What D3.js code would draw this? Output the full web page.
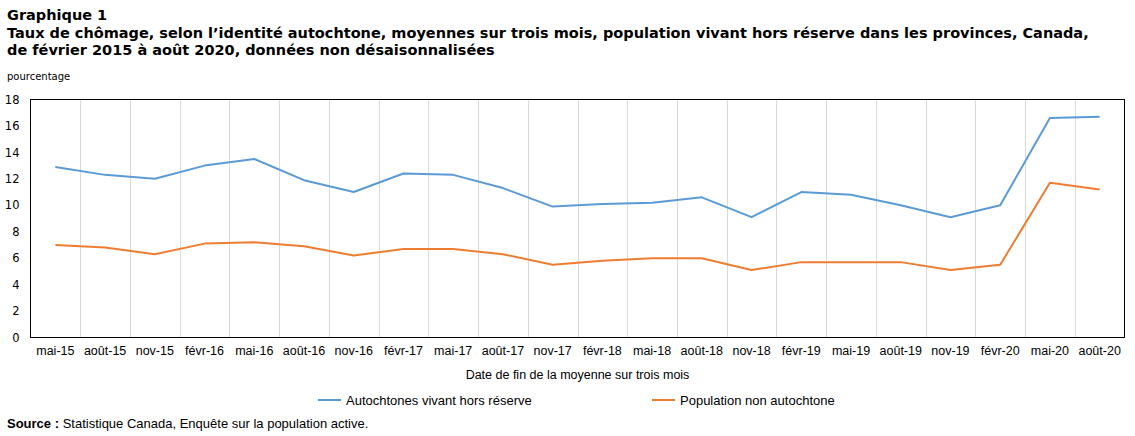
<!DOCTYPE html>
<html><head><meta charset="utf-8">
<script src="https://cdn.jsdelivr.net/npm/d3@7"></script>
<style>body{margin:0;background:#fff;} svg{display:block;}</style>
</head><body>
<script>
const categories = ["mai-15","août-15","nov-15","févr-16","mai-16","août-16","nov-16","févr-17","mai-17","août-17","nov-17","févr-18","mai-18","août-18","nov-18","févr-19","mai-19","août-19","nov-19","févr-20","mai-20","août-20"];
const autochtones = [12.9,12.3,12.0,13.0,13.5,11.9,11.0,12.4,12.3,11.3,9.9,10.1,10.2,10.6,9.1,11.0,10.8,10.0,9.1,10.0,16.6,16.7];
const nonAutochtone = [7.0,6.8,6.3,7.1,7.2,6.9,6.2,6.7,6.7,6.3,5.5,5.8,6.0,6.0,5.1,5.7,5.7,5.7,5.1,5.5,11.7,11.2];
const yTicks = [0,2,4,6,8,10,12,14,16,18];
const seriesNames = ["Autochtones vivant hors réserve","Population non autochtone"];
const colors = ["#5b9bd5","#ed7d31"];

const W = 1135, H = 436;
const svg = d3.select("body").append("svg").attr("width", W).attr("height", H);
const L = 30.5, R = 1124.5, T = 99.5, B = 337.5;
const x = d3.scaleBand().domain(categories).range([L, R]);
const y = d3.scaleLinear().domain([0, 18]).range([B, T]);

const titleFont = "Verdana, 'DejaVu Sans', sans-serif";
const t = svg.append("g").attr("font-family", titleFont).attr("font-size", 14.5).attr("fill", "#000").attr("font-weight", "bold");
t.append("text").attr("x", 7).attr("y", 20).text("Graphique  1");
t.append("text").attr("x", 7).attr("y", 38).text("Taux de chômage, selon l’identité autochtone, moyennes sur trois mois, population  vivant hors réserve dans les provinces, Canada,");
t.append("text").attr("x", 7).attr("y", 55).text("de février 2015 à août 2020, données non désaisonnalisées");

svg.append("text").attr("x", 7).attr("y", 80).attr("font-family", titleFont).attr("font-size", 10).text("pourcentage");

// gridlines
svg.append("g").selectAll("line").data(categories.slice(1)).join("line")
  .attr("x1", d => Math.round(x(d)) + 0.5).attr("x2", d => Math.round(x(d)) + 0.5)
  .attr("y1", T).attr("y2", B).attr("stroke", "#d9d9d9").attr("stroke-width", 1);

// y axis labels
svg.append("g").attr("transform", `translate(${L},0)`)
  .call(d3.axisLeft(y).tickValues(yTicks).tickSize(0).tickPadding(11))
  .call(g => g.select(".domain").remove())
  .selectAll("text").attr("font-family", titleFont).attr("font-size", 11.5).attr("fill", "#000");

const narrow = "'Liberation Sans Narrow', 'Arial Narrow', sans-serif";
// x axis labels
svg.append("g").attr("transform", `translate(0,${B})`)
  .call(d3.axisBottom(x).tickSize(0).tickPadding(9))
  .call(g => g.select(".domain").remove())
  .selectAll("text").attr("font-family", narrow).attr("font-size", 12.5).attr("fill", "#000");

// frame
svg.append("rect").attr("x", L).attr("y", T).attr("width", R - L).attr("height", B - T)
  .attr("fill", "none").attr("stroke", "#000").attr("stroke-width", 1);

const line = d3.line().x((d, i) => x(categories[i]) + x.bandwidth() / 2).y(d => y(d));
[autochtones, nonAutochtone].forEach((s, k) => {
  svg.append("path").datum(s).attr("d", line).attr("fill", "none")
    .attr("stroke", colors[k]).attr("stroke-width", 2).attr("stroke-linejoin", "round");
});

svg.append("text").attr("x", (L + R) / 2).attr("y", 379).attr("text-anchor", "middle")
  .attr("font-family", narrow).attr("font-size", 12.5).text("Date de fin de la moyenne sur trois mois");

const legX = [318, 652];
seriesNames.forEach((n, k) => {
  svg.append("line").attr("x1", legX[k]).attr("x2", legX[k] + 23).attr("y1", 400).attr("y2", 400)
    .attr("stroke", colors[k]).attr("stroke-width", 2);
  svg.append("text").attr("x", legX[k] + 28).attr("y", 404.5).attr("font-family", narrow)
    .attr("font-size", 13).text(n);
});

const src = svg.append("text").attr("x", 7).attr("y", 428).attr("font-family", narrow).attr("font-size", 13);
src.append("tspan").attr("font-weight", "bold").text("Source : ");
src.append("tspan").text("Statistique  Canada, Enquête sur la population active.");
</script>
</body></html>
